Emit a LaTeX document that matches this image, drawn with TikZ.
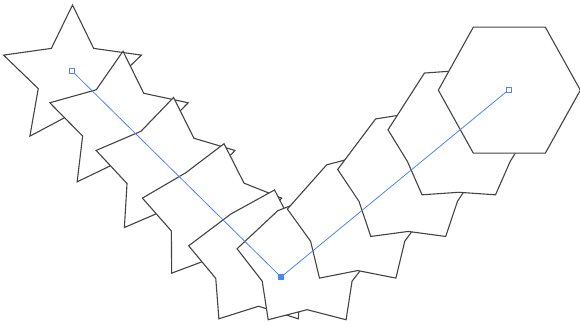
\documentclass[tikz,border=0pt]{standalone}
\usepackage{tikz}
\usetikzlibrary{positioning, calc}
\definecolor{Outline}{HTML}{444444}
\definecolor{Spine}{HTML}{4D86F7}
\tikzset{
    blendshape/.style={fill=white, draw=Outline, line width=1.1pt, line join=miter},
    spine/.style={draw=Spine, line width=0.8pt},
    anchorbox/.style={rectangle, draw=Spine, fill=white, line width=0.8pt, minimum size=5pt, inner sep=0pt},
    cornerbox/.style={rectangle, fill=Spine, minimum size=6.5pt, inner sep=0pt},
}

\begin{document}
\begin{tikzpicture}[x=1pt, y=-1pt]
    \useasboundingbox (0,0) rectangle (580,325);

    % Punti del percorso
    \coordinate (start) at (72,71);
    \coordinate (bend) at (281,277);
    \coordinate (finish) at (508.5,90);

    % Fusione stella -> esagono (10 passi lungo il percorso)
    \foreach \i in {0,...,9} {
        \pgfmathsetmacro{\t}{\i/9}
        \pgfmathsetmacro{\s}{\i*588.5/9}
        \pgfmathsetmacro{\cx}{\s<293.46 ? 72+\s*0.7122 : 281+(\s-293.46)*0.7739}
        \pgfmathsetmacro{\cy}{\s<293.46 ? 71+\s*0.7020 : 277-(\s-293.46)*0.6333}
        \foreach \k/\hx/\hy in {0/36/-63, 1/53.5/-31.5, 2/71/0, 3/53.5/31.5, 4/36/63,
                                5/0/63, 6/-36/63, 7/-53.5/31.5, 8/-71/0, 9/-36/-63} {
            \pgfmathsetmacro{\rad}{mod(\k,2)==1 ? 36 : 72.5}
            \pgfmathsetmacro{\sx}{0.5+\rad*cos(90-36*\k)}
            \pgfmathsetmacro{\sy}{6.5-\rad*sin(90-36*\k)}
            \coordinate (v\k) at ({\cx+(1-\t)*\sx+\t*\hx}, {\cy+(1-\t)*\sy+\t*\hy});
        }
        \filldraw[blendshape] (v0) -- (v1) -- (v2) -- (v3) -- (v4) -- (v5)
            -- (v6) -- (v7) -- (v8) -- (v9) -- cycle;
    }

    % Percorso della fusione
    \draw[spine] (start) -- (bend) -- (finish);
    \node[anchorbox] (startbox) at (start) {};
    \node[cornerbox] (bendbox) at (bend) {};
    \node[anchorbox] (finishbox) at (finish) {};
\end{tikzpicture}
\end{document}
